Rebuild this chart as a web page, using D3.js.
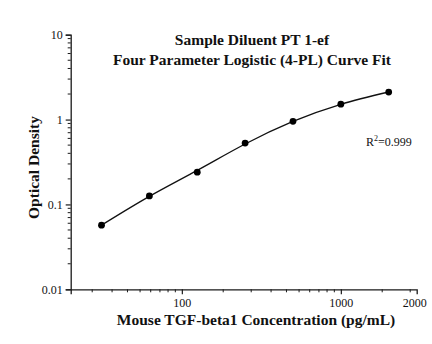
<!DOCTYPE html>
<html>
<head>
<meta charset="utf-8">
<script src="https://cdn.jsdelivr.net/npm/d3@7/dist/d3.min.js"></script>
<style>
  html, body { margin: 0; padding: 0; background: #fff; }
  svg { display: block; }
  text { font-family: "Liberation Serif", "Times New Roman", serif; fill: #111; }
</style>
</head>
<body>
<svg id="chart" width="432" height="344"></svg>
<script>
// Standard curve: concentrations (pg/mL) and measured optical density
const concentrations = [31.25, 62.5, 125, 250, 500, 1000, 2000];
const opticalDensity = [0.057, 0.126, 0.240, 0.528, 0.953, 1.52, 2.11];
// 4-PL fitted optical density at the same concentrations
const fittedDensity = [0.057, 0.1245, 0.252, 0.515, 0.951, 1.514, 2.113];

// Axis extents and tick labels
const xDomain = [20, 3000];
const yDomain = [0.01, 10];
const xMajorTicks = [100, 1000];
const xMajorLabels = ["100", "1000"];
const xEndLabel = "2000";
const xMinorTicks = [30, 40, 50, 60, 70, 80, 90, 100, 200, 300, 400, 500, 600, 700, 800, 900, 1000, 2000, 3000];
const yMajorTicks = [0.01, 0.1, 1, 10];
const yMajorLabels = ["0.01", "0.1", "1", "10"];
const yMinorTicks = [0.02, 0.03, 0.04, 0.05, 0.06, 0.07, 0.08, 0.09,
                     0.2, 0.3, 0.4, 0.5, 0.6, 0.7, 0.8, 0.9,
                     2, 3, 4, 5, 6, 7, 8, 9];

const titleLines = ["Sample Diluent PT 1-ef", "Four Parameter Logistic (4-PL) Curve Fit"];
const xTitle = "Mouse TGF-beta1 Concentration (pg/mL)";
const yTitle = "Optical Density";
const rSquared = "0.999";

const svg = d3.select("#chart");

const x = d3.scaleLog().domain(xDomain).range([70.7, 416.7]);
const y = d3.scaleLog().domain(yDomain).range([289.3, 34.7]);

const axisColor = "#1a1a1a";

// X axis: major ticks with labels
svg.append("g")
  .attr("transform", `translate(0,${y.range()[0]})`)
  .call(d3.axisBottom(x).tickValues(xMajorTicks)
    .tickFormat((d, i) => xMajorLabels[i]).tickSize(5).tickPadding(4))
  .call(g => g.select(".domain").attr("stroke", axisColor).attr("stroke-width", 1.3))
  .call(g => g.selectAll(".tick line").attr("stroke", axisColor).attr("stroke-width", 1.2))
  .call(g => g.selectAll(".tick text")
    .attr("font-size", 12).attr("font-family", "Liberation Serif").attr("fill", "#111"));

// X axis minor ticks (drawn as their own layer, slightly offset)
svg.append("g")
  .attr("transform", `translate(-6.5,${y.range()[0]})`)
  .selectAll("line")
  .data(xMinorTicks.filter(v => x(v) - 6.5 >= x.range()[0] && x(v) - 6.5 <= x.range()[1]))
  .join("line")
  .attr("x1", d => x(d)).attr("x2", d => x(d))
  .attr("y1", 0).attr("y2", 3)
  .attr("stroke", axisColor).attr("stroke-width", 1);

// Label at the right end of the x axis
svg.append("text")
  .attr("x", x(xDomain[1]) - 2)
  .attr("y", y.range()[0] + 18)
  .attr("text-anchor", "middle")
  .attr("font-size", 12)
  .text(xEndLabel);

// Y axis: major ticks with labels
svg.append("g")
  .attr("transform", `translate(${x.range()[0]},0)`)
  .call(d3.axisLeft(y).tickValues(yMajorTicks)
    .tickFormat((d, i) => yMajorLabels[i]).tickSize(5).tickPadding(3))
  .call(g => g.select(".domain").attr("stroke", axisColor).attr("stroke-width", 1.3))
  .call(g => g.selectAll(".tick line").attr("stroke", axisColor).attr("stroke-width", 1.2))
  .call(g => g.selectAll(".tick text")
    .attr("font-size", 12).attr("font-family", "Liberation Serif").attr("fill", "#111"));

// Y axis minor ticks
svg.append("g")
  .attr("transform", `translate(${x.range()[0]},0)`)
  .selectAll("line")
  .data(yMinorTicks)
  .join("line")
  .attr("x1", -3).attr("x2", 0)
  .attr("y1", d => y(d)).attr("y2", d => y(d))
  .attr("stroke", axisColor).attr("stroke-width", 1);

// Fitted curve
const fitPts = concentrations.map((c, i) => [c, fittedDensity[i]]);
const line = d3.line()
  .x(d => x(d[0]))
  .y(d => y(d[1]))
  .curve(d3.curveNatural);

svg.append("path")
  .datum(fitPts)
  .attr("d", line)
  .attr("fill", "none")
  .attr("stroke", "#111")
  .attr("stroke-width", 1.3);

// Measured standards
const pts = concentrations.map((c, i) => [c, opticalDensity[i]]);
svg.append("g")
  .selectAll("circle")
  .data(pts)
  .join("circle")
  .attr("cx", d => x(d[0]))
  .attr("cy", d => y(d[1]))
  .attr("r", 3.4)
  .attr("fill", "#000");

// Title
svg.append("g")
  .selectAll("text")
  .data(titleLines)
  .join("text")
  .attr("x", 252)
  .attr("y", (d, i) => 45 + i * 19.5)
  .attr("text-anchor", "middle")
  .attr("font-size", 15.5)
  .attr("font-weight", "bold")
  .text(d => d);

// Axis titles
svg.append("text")
  .attr("x", 256)
  .attr("y", 325)
  .attr("text-anchor", "middle")
  .attr("font-size", 15.5)
  .attr("font-weight", "bold")
  .text(xTitle);

svg.append("text")
  .attr("transform", "translate(39,167.5) rotate(-90)")
  .attr("text-anchor", "middle")
  .attr("font-size", 15.5)
  .attr("font-weight", "bold")
  .text(yTitle);

// Goodness of fit
const r2 = svg.append("text")
  .attr("x", 366)
  .attr("y", 145.7)
  .attr("font-size", 12);
r2.append("tspan").text("R");
r2.append("tspan").attr("font-size", 8).attr("dy", -5).text("2");
r2.append("tspan").attr("dy", 5).text("=" + rSquared);
</script>
</body>
</html>
